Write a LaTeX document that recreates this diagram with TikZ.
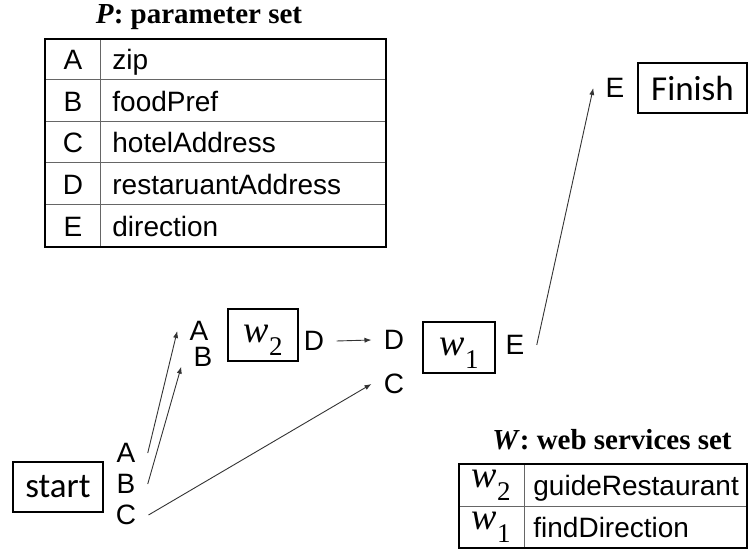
\documentclass[tikz,border=0pt]{standalone}
\usepackage{fontspec}
\setmainfont{Liberation Sans}
\newfontfamily\titlefont{Liberation Serif}
\newfontfamily\boxfont{Carlito}
\usetikzlibrary{arrows.meta}

% service name with subscript
\newcommand{\svc}[1]{{\titlefont\fontsize{19}{19}\selectfont\itshape w}\kern0.2pt\raisebox{-6.5pt}{\titlefont\fontsize{13.5}{13.5}\selectfont #1}}

\tikzset{
    lbl/.style={inner xsep=6pt, inner ysep=1pt, font=\fontsize{14}{14}\selectfont},
    cell/.style={inner sep=0pt, text height=10pt, text depth=0pt, font=\fontsize{14}{14}\selectfont},
    svctext/.style={inner sep=0pt, text height=9pt, text depth=7pt},
    svcbox/.style={draw, line width=0.8pt, inner sep=0pt, text height=12pt, text depth=4pt},
    endbox/.style={draw, line width=0.8pt, inner sep=0pt, font=\boxfont\fontsize{17.5}{17.5}\selectfont},
    settitle/.style={font=\titlefont\bfseries\fontsize{14.5}{14.5}\selectfont},
    arr/.style={-{Latex[length=3.5pt,width=2.6pt]}, line width=0.45pt, black!80}
}

\begin{document}
\begin{tikzpicture}[x=0.5pt, y=-0.5pt]
        \useasboundingbox (0,0) rectangle (748,549);

        % Parameter set table
        \node[settitle] (ptitle) at (199, 17) {\textit{P}: parameter set};
        \foreach \y in {80, 122, 163, 205} {
            \draw[black!60, line width=0.5pt] (45, \y) -- (386, \y);
        }
        \draw[black!60, line width=0.5pt] (100, 39) -- (100, 247);
        \draw[line width=1pt] (45, 39) rectangle (386, 247);
        \foreach \i/\key/\name in {1/A/zip, 2/B/foodPref, 3/C/hotelAddress, 4/D/restaruantAddress, 5/E/direction} {
            \node[cell] (pk\i) at (73, {39+41.6*(\i-0.5)}) {\key};
            \node[cell, anchor=west] (pn\i) at (112, {39+41.6*(\i-0.5)}) {\name};
        }

        % Web services set table
        \node[settitle] (wtitle) at (612, 440) {\textit{W}: web services set};
        \draw[black!60, line width=0.5pt] (459, 506) -- (747, 506);
        \draw[black!60, line width=0.5pt] (524, 464) -- (524, 548);
        \draw[line width=1pt] (459, 464) rectangle (747, 548);
        \foreach \i/\key/\name in {1/2/guideRestaurant, 2/1/findDirection} {
            \node[svctext] (wk\i) at (491, {464+42*(\i-0.5)}) {\svc{\key}};
            \node[cell, anchor=west] (wn\i) at (533, {464+42*(\i-0.5)}) {\name};
        }

        % Start
        \node[endbox, minimum width=45pt, minimum height=25pt] (start) at (58, 487) {start};
        \node[lbl] (startA) at (126, 453) {A};
        \node[lbl] (startB) at (126, 484) {B};
        \node[lbl] (startC) at (126, 515) {C};

        % Service w2
        \node[svcbox, minimum width=35pt, minimum height=26pt] (wtwo) at (263, 335) {\svc{2}};
        \node[lbl] (wtwoA) at (199, 331) {A};
        \node[lbl] (wtwoB) at (203, 357) {B};
        \node[lbl] (wtwoD) at (314, 341) {D};

        % Service w1
        \node[svcbox, minimum width=36pt, minimum height=25.5pt] (wone) at (459, 347.5) {\svc{1}};
        \node[lbl] (woneD) at (394, 340) {D};
        \node[lbl] (woneC) at (394, 384) {C};
        \node[lbl] (woneE) at (515, 345) {E};

        % Finish
        \node[endbox, minimum width=54.5pt, minimum height=25pt] (finish) at (692.5, 88) {Finish};
        \node[lbl] (finE) at (615, 88) {E};

        % Connections
        \draw[arr] (startA.east) -- (wtwoA.west);
        \draw[arr] (startB.east) -- (wtwoB.base west);
        \draw[arr] (startC.east) -- (woneC.west);
        \draw[arr] (wtwoD.east) -- (woneD.west);
        \draw[arr] (woneE.east) -- (finE.west);
    \end{tikzpicture}
\end{document}
